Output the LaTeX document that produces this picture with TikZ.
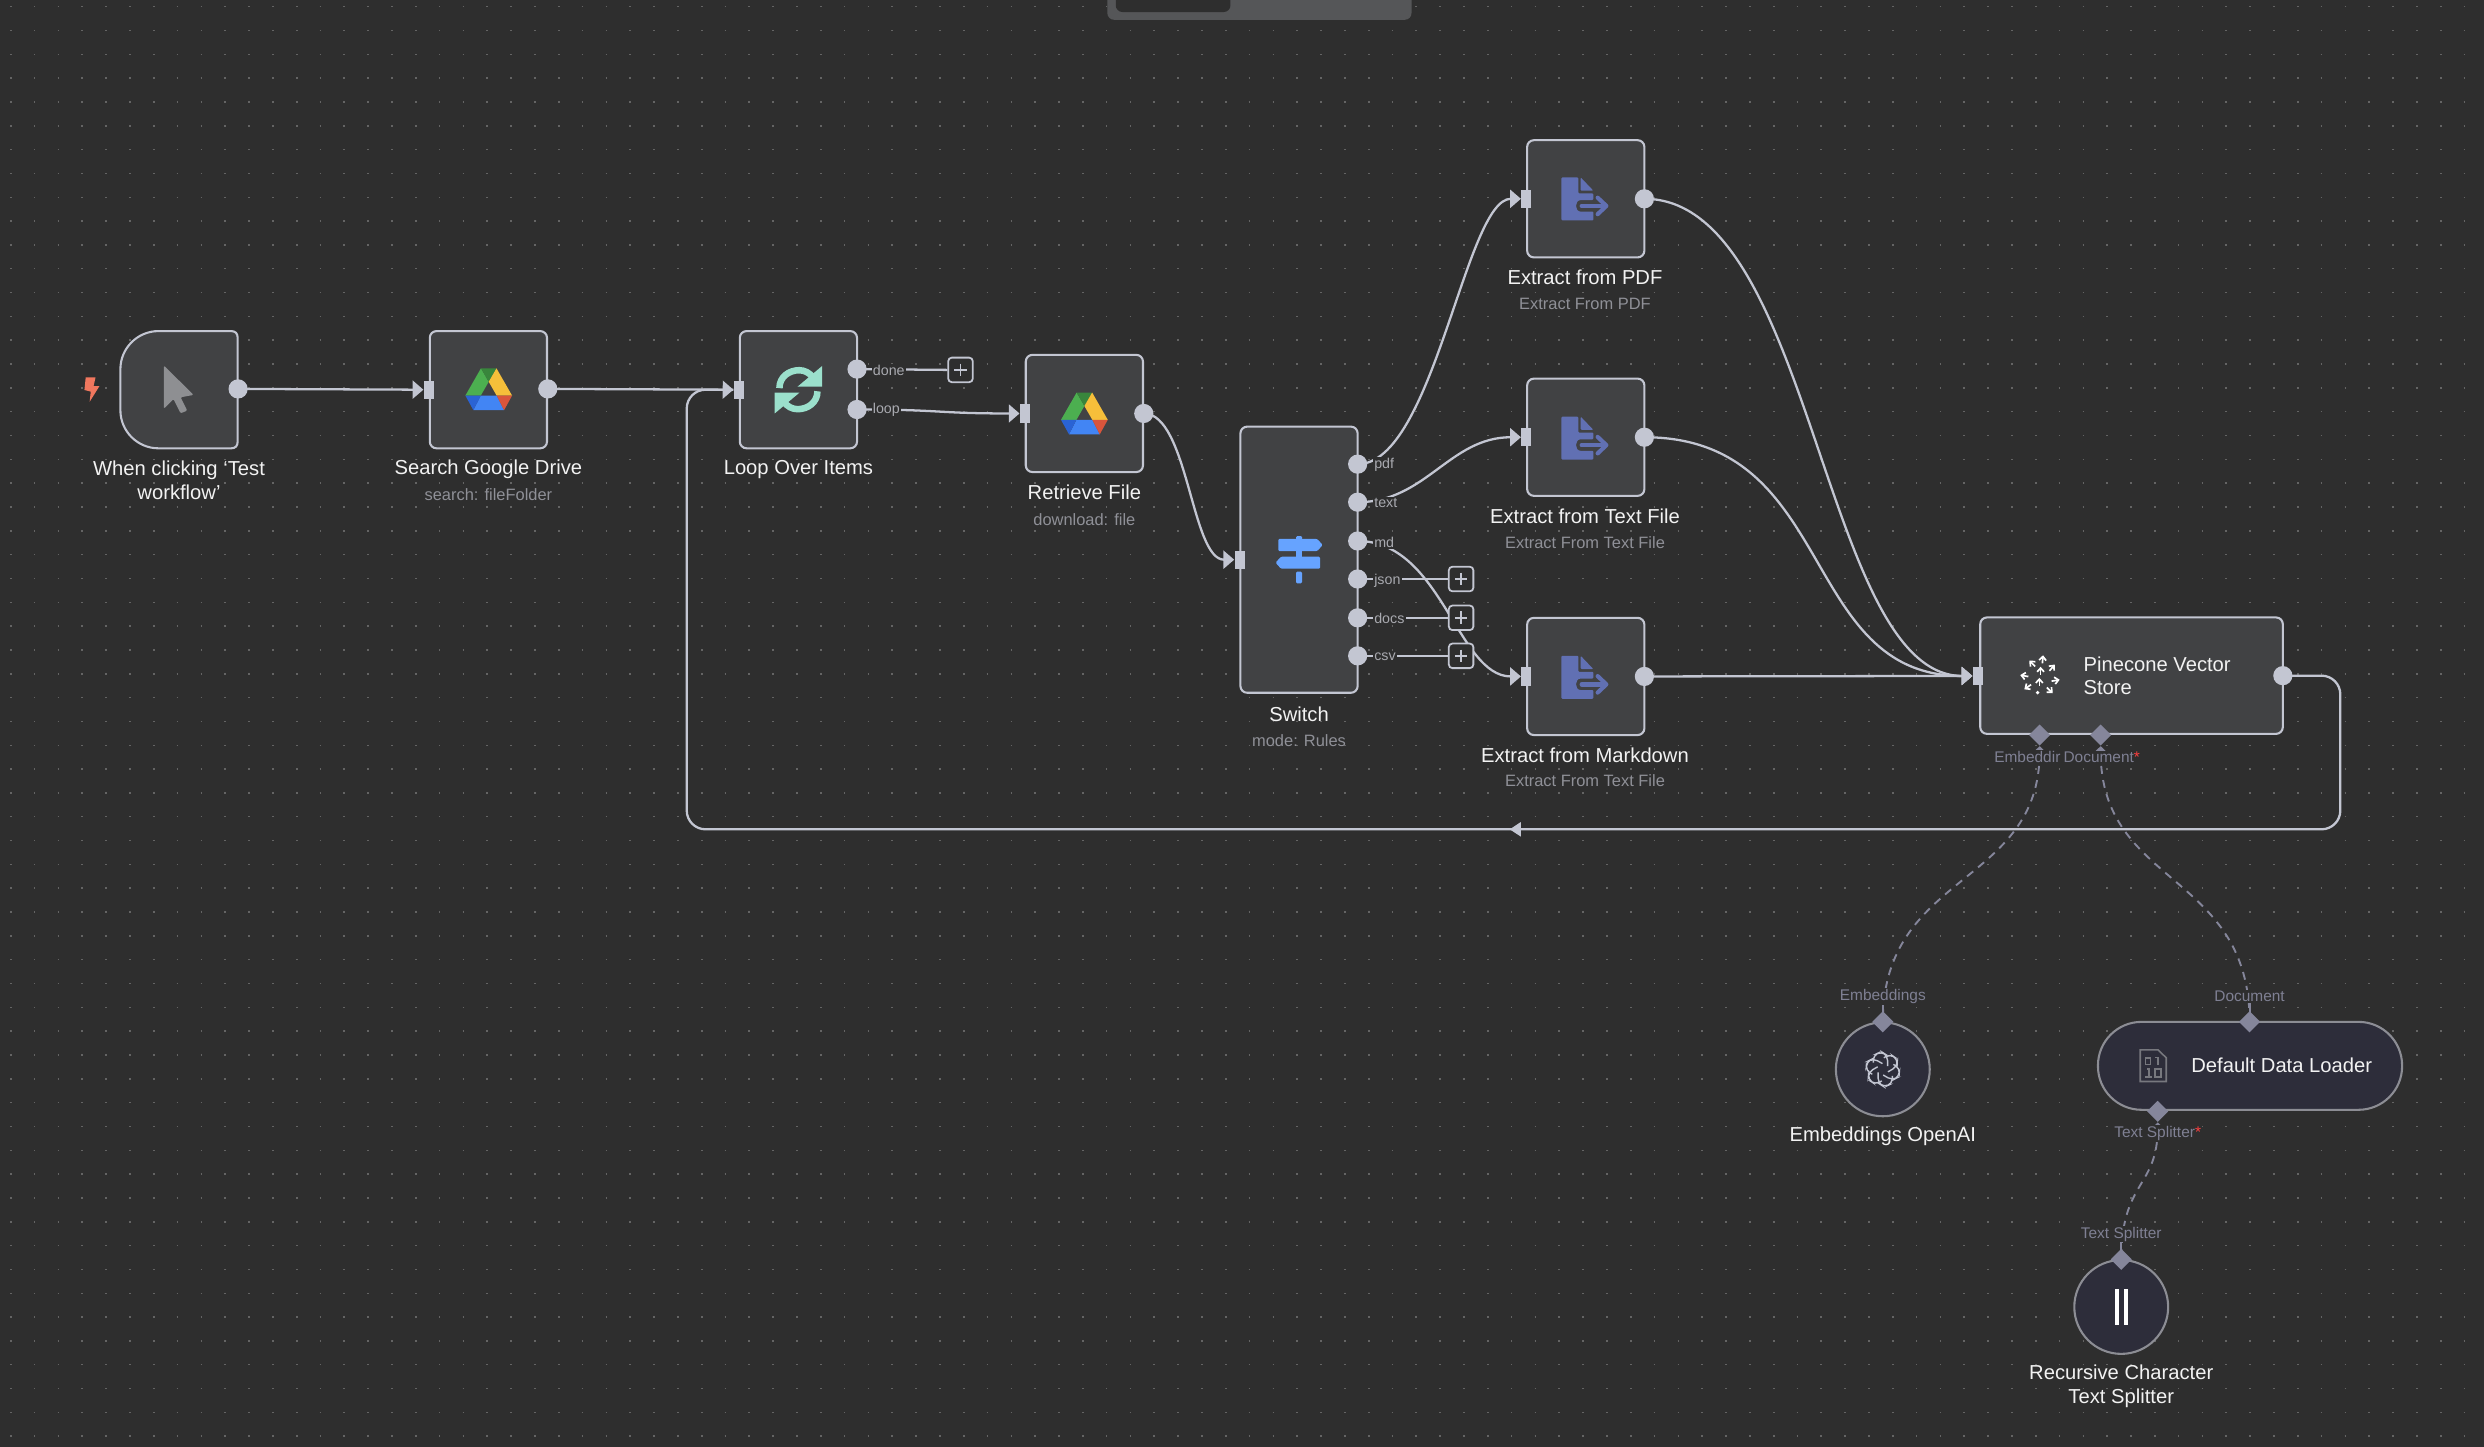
\documentclass[tikz,border=0pt]{standalone}
\usepackage{fontspec}
\setmainfont{Liberation Sans}
\usetikzlibrary{arrows.meta,shapes.geometric}
\definecolor{bgc}{HTML}{2E2E2E}
\definecolor{dotc}{HTML}{646464}
\definecolor{boxf}{HTML}{414244}
\definecolor{edgec}{HTML}{C3C6D2}
\definecolor{subf}{HTML}{2D2D3A}
\definecolor{sube}{HTML}{8C8D94}
\definecolor{dashc}{HTML}{85869B}
\definecolor{dimt}{HTML}{8F9097}
\definecolor{portt}{HTML}{A9AAB0}
\definecolor{subt}{HTML}{7F8093}
\definecolor{docc}{HTML}{6170B3}
\pgfdeclarelayer{gridl}
\pgfdeclarelayer{conn}
\pgfsetlayers{gridl,conn,main}
\tikzset{
  x=0.8pt,y=-0.8pt,
  nodebox/.style={draw=edgec,fill=boxf,line width=1.05pt,rounded corners=3.4pt,inner sep=0pt,minimum width=59.2pt},
  subcirc/.style={circle,draw=sube,fill=subf,line width=1.05pt,inner sep=0pt,minimum size=47.4pt},
  outp/.style={circle,fill=edgec,inner sep=0pt,minimum size=9.7pt},
  inp/.style={rectangle,fill=edgec,inner sep=0pt,minimum width=5.1pt,minimum height=9.2pt},
  subp/.style={diamond,fill=dashc,inner sep=0pt,minimum size=10.8pt},
  plusbox/.style={draw=edgec,fill=bgc,line width=.9pt,rounded corners=1.8pt,inner sep=0pt,minimum width=12.4pt,minimum height=12.4pt,
    path picture={\draw[edgec,line width=.9pt] (path picture bounding box.center) +(-4,0) -- +(4,0) +(0,-4) -- +(0,4);}},
  wire/.style={draw=edgec,line width=1.15pt,-{Triangle[length=5.4pt,width=9pt]}},
  plainwire/.style={draw=edgec,line width=1.15pt},
  dashwire/.style={draw=dashc,line width=.95pt,dash pattern=on 4pt off 3.2pt,{Triangle[length=3pt,width=6pt]}-},
  stubwire/.style={draw=dashc,line width=.95pt},
  name text/.style={text=white!95!black,font=\fontsize{10.2}{11.9}\selectfont,align=center,inner sep=0pt},
  sub text/.style={text=dimt,font=\fontsize{8.3}{9.5}\selectfont,inner sep=0pt},
  port text/.style={text=portt,font=\fontsize{7.2}{9}\selectfont,fill=bgc,inner xsep=.6pt,inner ysep=.6pt},
  conn text/.style={text=subt,font=\fontsize{7.8}{9}\selectfont,fill=bgc,inner xsep=.6pt,inner ysep=.6pt},
}
\newcommand{\gdriveicon}[2]{\begin{scope}[shift={(#1,#2)}]
  \fill[fill={rgb,255:red,76;green,175;blue,80}] (-4.9,-13.2) -- (0,-4.7) -- (-5,4) -- (-14.75,4) -- cycle;
  \fill[fill={rgb,255:red,56;green,134;blue,60}] (-4.9,-13.2) -- (4.9,-13.2) -- (0,-4.7) -- cycle;
  \fill[fill={rgb,255:red,246;green,191;blue,58}] (4.9,-13.2) -- (14.75,4) -- (5,4) -- (0,-4.7) -- cycle;
  \fill[fill={rgb,255:red,66;green,133;blue,244}] (-5,4) -- (5,4) -- (9.7,13.2) -- (-9.7,13.2) -- cycle;
  \fill[fill={rgb,255:red,42;green,99;blue,212}] (-14.75,4) -- (-5,4) -- (-9.7,13.2) -- cycle;
  \fill[fill={rgb,255:red,217;green,85;blue,60}] (5,4) -- (14.75,4) -- (9.7,13.2) -- cycle;
\end{scope}}
\newcommand{\extracticon}[2]{\begin{scope}[shift={(#1,#2)}]
  \fill[docc,rounded corners=.5pt] (-15.4,-13) -- (-4.7,-13) -- (-4.7,-2.9) -- (4.8,-2.9) -- (4.8,1.3) -- (-2.5,1.3) .. controls (-7.2,1.3) and (-7.2,8.6) .. (-2.5,8.6) -- (4.8,8.6) -- (4.8,14.1) -- (-15.4,14.1) -- cycle;
  \fill[docc,rounded corners=.5pt] (-3.2,-13) -- (4.8,-4.6) -- (-3.2,-4.6) -- cycle;
  \draw[docc,line width=2.3pt,line cap=round] (-2.5,5) -- (12,5);
  \draw[docc,line width=2.1pt,line cap=round,line join=round] (7.5,-.2) -- (13,5) -- (7.5,10.2);
\end{scope}}
\begin{document}
\begin{tikzpicture}
\useasboundingbox (0,0) rectangle (1568,912.8);
\begin{pgfonlayer}{gridl}
  \fill[bgc] (-5,-5) rectangle (1575,920);
  \foreach \r in {0,...,60}{
    \draw[dotc,line width=.75pt,dash pattern=on .85pt off 11.18pt] (6.3,{4.2+15.04*\r}) -- (1568,{4.2+15.04*\r});
  }
\end{pgfonlayer}
% top bar
\fill[fill={rgb,255:red,85;green,86;blue,88},rounded corners=3.4pt] (699,-8) rectangle (891,12.5);
\fill[bgc,rounded corners=3.4pt] (704.3,-8) rectangle (776.7,7.6);
% trigger
\node[inner sep=0pt,minimum width=59.2pt,minimum height=59.2pt] (trig) at (113,246) {};
\draw[draw=edgec,fill=boxf,line width=1.05pt] (100,209) -- (146,209) .. controls (148.5,209) and (150,210.5) .. (150,213) -- (150,279) .. controls (150,281.5) and (148.5,283) .. (146,283) -- (100,283) .. controls (86.8,283) and (76,272.2) .. (76,259) -- (76,233) .. controls (76,219.8) and (86.8,209) .. (100,209) -- cycle;
\fill[fill={rgb,255:red,142;green,143;blue,146},rounded corners=.6pt] (103.5,230.8) -- (122.2,249.3) -- (114,250.8) -- (118.2,259.2) -- (114,260.9) -- (109.5,251.9) -- (103.5,258) -- cycle;
\fill[fill={rgb,255:red,240;green,119;blue,94}] (54.1,238.2) -- (60.3,238.2) -- (59.1,243.7) -- (62.8,243.7) -- (56.6,253.6) -- (57.3,247.2) -- (53.3,246.2) -- cycle;
\node[outp] (trigO) at (150.3,245.5) {};
% main boxes
\node[nodebox,minimum height=59.2pt] (search) at (308.3,246) {};
\node[nodebox,minimum height=59.2pt] (loopb) at (504,246) {};
\node[nodebox,minimum height=59.2pt] (retr) at (684.5,261) {};
\node[nodebox,minimum height=134.4pt] (sw) at (820,353.3) {};
\node[nodebox,minimum height=59.2pt] (expdf) at (1001,125.5) {};
\node[nodebox,minimum height=59.2pt] (extxt) at (1001,276) {};
\node[nodebox,minimum height=59.2pt] (exmd) at (1001,427) {};
\node[nodebox,minimum width=152.8pt,minimum height=58.8pt] (pine) at (1345.5,426.5) {};
% sub nodes
\node[subcirc] (emb) at (1188.5,675) {};
\node[subcirc] (split) at (1339,825) {};
\node[rectangle,rounded corners=22pt,draw=sube,fill=subf,line width=1.05pt,inner sep=0pt,minimum width=153.6pt,minimum height=44.4pt] (loader) at (1420.3,672.8) {};
% icons
\gdriveicon{308.5}{245.7}
\gdriveicon{684.5}{261}
\begin{scope}[shift={(504,246)}]
  \definecolor{syncc}{HTML}{9BE0CC}
  \draw[syncc,line width=3.3pt] (-12,-1) .. controls (-12,-8) and (-6,-12.3) .. (.5,-12.3) .. controls (4,-12.3) and (7,-10.5) .. (9,-8);
  \fill[syncc] (15,-15) -- (15,-1.9) -- (-.6,-1.9) -- cycle;
  \draw[syncc,line width=3.3pt] (12,1) .. controls (12,8) and (6,12.3) .. (-.5,12.3) .. controls (-4,12.3) and (-7,10.5) .. (-9,8);
  \fill[syncc] (-15,15) -- (-15,1.9) -- (.6,1.9) -- cycle;
\end{scope}
\begin{scope}[shift={(820,353)}]
  \definecolor{signc}{HTML}{66A3FF}
  \fill[signc,rounded corners=.6pt] (-1.9,-14.6) rectangle (1.9,-10);
  \fill[signc,rounded corners=.6pt] (-13.1,-12.8) -- (11.5,-12.8) -- (14.9,-9) -- (11.5,-5.1) -- (-13.1,-5.1) -- cycle;
  \fill[signc] (-1.9,-5.1) rectangle (1.9,-1.6);
  \fill[signc,rounded corners=.6pt] (-11.4,-1.6) -- (13.3,-1.6) -- (13.3,6) -- (-11.4,6) -- (-14.8,2.2) -- cycle;
  \fill[signc,rounded corners=.6pt] (-1.9,7.9) rectangle (1.9,15.2);
\end{scope}
\extracticon{1001}{125}
\extracticon{1001}{276}
\extracticon{1001}{427}
% pinecone icon
\begin{scope}[shift={(1287.7,427.1)}]
  \foreach \px/\py/\pa in {1.7/-10.5/85,-4.6/-8/135,-9.5/-.4/170,-7.4/6.3/215,5.9/8.4/-45,9.5/2.5/10,7.4/-5.3/50,.4/-3.2/90,-.4/3.8/90}{
    \begin{scope}[shift={(\px,\py)},rotate=\pa]
      \draw[white,line width=.85pt,line join=miter] (-2.2,0) -- (2.2,0);
      \draw[white,line width=.85pt,line join=miter] (-.2,-2.2) -- (2.2,0) -- (-.2,2.2);
    \end{scope}
  }
  \fill[white] (-1.5,10.1) circle (1.2);
\end{scope}
% openai icon
\begin{scope}[shift={(1188.5,675)}]
  \foreach \a in {0,60,...,300}{
    \begin{scope}[rotate=\a]
      \draw[edgec,line width=.7pt,rounded corners=2.4pt] (3,-2) -- (3,-8.6) -- (-1,-11.2) -- (-6,-8.8) -- (-6,-4.2);
    \end{scope}
  }
\end{scope}
% binary doc icon
\begin{scope}[shift={(1359.2,672.7)}]
  \draw[sube!85!black,line width=.8pt] (-8.2,-10) -- (3,-10) -- (8.2,-5) -- (8.2,10) -- (-8.2,10) -- cycle;
  \draw[sube!85!black,line width=.75pt] (-5,-5) rectangle (-1.6,-.6) (1.2,-5.2) -- (3,-5.2) -- (3,-.6) (-3.8,2) -- (-2.6,2) -- (-2.6,7) (1,2.2) rectangle (5,7) (-5,7) -- (-.6,7);
\end{scope}
% splitter icon
\fill[white] (1334.8,813.9) rectangle (1337.7,836.4);
\fill[white] (1340.6,813.9) rectangle (1343.4,836.4);
% ports
\node[inp] (searchI) at (270.7,246) {};
\node[outp] (searchO) at (345.8,245.5) {};
\node[inp] (loopI) at (466.4,246) {};
\node[outp] (loopD) at (541,233) {};
\node[outp] (loopL) at (541,258.5) {};
\node[inp] (retrI) at (647,261) {};
\node[outp] (retrO) at (722,261) {};
\node[inp] (swI) at (782.5,353.3) {};
\node[outp] (swA) at (857,293) {};
\node[outp] (swB) at (857,317) {};
\node[outp] (swC) at (857,341.5) {};
\node[outp] (swD) at (857,365.5) {};
\node[outp] (swE) at (857,390) {};
\node[outp] (swF) at (857,414) {};
\node[inp] (pdfI) at (963.5,125.5) {};
\node[outp] (pdfO) at (1038,125.5) {};
\node[inp] (txtI) at (963.5,276) {};
\node[outp] (txtO) at (1038,276) {};
\node[inp] (mdI) at (963.5,427) {};
\node[outp] (mdO) at (1038,427) {};
\node[inp] (pineI) at (1248.5,426.7) {};
\node[outp] (pineO) at (1441,426.5) {};
\node[subp] (pineE) at (1287.5,464) {};
\node[subp] (pineD) at (1326,464) {};
\node[subp] (embP) at (1188.5,645) {};
\node[subp] (loadP) at (1420,645) {};
\node[subp] (loadS) at (1362,701.5) {};
\node[subp] (splitP) at (1339,795) {};
\node[plusbox] (plusA) at (606.3,233.5) {};
\node[plusbox] (plusB) at (922.3,365.5) {};
\node[plusbox] (plusC) at (922.3,390) {};
\node[plusbox] (plusD) at (922.3,414) {};
\coordinate (rb) at (1477.3,523.5);
\coordinate (lb) at (433.5,523.5);
\coordinate (lt) at (433.5,246);
\coordinate (backMid) at (957,523.5);
% connectors
\begin{pgfonlayer}{conn}
  \draw[wire] (trigO.center) -- (searchI.west);
  \draw[wire] (searchO.center) -- (loopI.west);
  \draw[plainwire] (loopD.center) -- (plusA.west);
  \draw[wire] (loopL.center) .. controls (595,258.5) and (590,261) .. (retrI.west);
  \draw[wire] (retrO.center) .. controls (750,261) and (752,353.3) .. (swI.west);
  \draw[wire] (swA.center) .. controls (905,293) and (925,125.5) .. (pdfI.west);
  \draw[wire] (swB.center) .. controls (900,317) and (915,276) .. (txtI.west);
  \draw[wire] (swC.center) .. controls (910,341.5) and (920,427) .. (mdI.west);
  \draw[plainwire] (swD.center) -- (plusB.west);
  \draw[plainwire] (swE.center) -- (plusC.west);
  \draw[plainwire] (swF.center) -- (plusD.west);
  \draw[wire] (pdfO.center) .. controls (1145,125.5) and (1150,426.7) .. (pineI.west);
  \draw[wire] (txtO.center) .. controls (1160,276) and (1135,426.7) .. (pineI.west);
  \draw[wire] (mdO.center) -- (pineI.west);
  \draw[plainwire,rounded corners=9.5pt] (pineO.center) -| (rb) -- (lb) -- (lt) -- (loopI.west);
  \fill[edgec] (backMid) +(-4,0) -- +(3,-4.6) -- +(3,4.6) -- cycle;
  \draw[dashwire] (pineE.south) .. controls (1287.5,560) and (1188.5,550) .. (embP.center);
  \draw[dashwire] (pineD.south) .. controls (1326,560) and (1420,550) .. (loadP.center);
  \draw[dashwire] (loadS.south) .. controls (1362,750) and (1339,745) .. (splitP.center);
  \draw[stubwire] (embP.center) -- ++(0,-14);
  \draw[stubwire] (loadP.center) -- ++(0,-14);
  \draw[stubwire] (splitP.center) -- ++(0,-14);
\end{pgfonlayer}
% labels
\node[name text] (trigL) at (113,303) {When clicking ‘Test\\workflow’};
\node[name text] (searchL) at (308.3,296.3) {Search Google Drive};
\node[sub text] (searchS) at (308.3,312.5) {search: fileFolder};
\node[name text] (loopT) at (504,296.7) {Loop Over Items};
\node[name text] (retrL) at (684.5,311) {Retrieve File};
\node[sub text] (retrS) at (684.5,328) {download: file};
\node[name text] (swL) at (820,450.7) {Switch};
\node[sub text] (swS) at (820,467.5) {mode: Rules};
\node[name text] (pdfL) at (1000.5,175.3) {Extract from PDF};
\node[sub text] (pdfS) at (1000.5,192) {Extract From PDF};
\node[name text] (txtL) at (1000.5,325.6) {Extract from Text File};
\node[sub text] (txtS) at (1000.5,342.5) {Extract From Text File};
\node[name text] (mdL) at (1000.5,476.6) {Extract from Markdown};
\node[sub text] (mdS) at (1000.5,493) {Extract From Text File};
\node[name text,align=left,anchor=west] (pineL) at (1315,426.5) {Pinecone Vector\\Store};
\node[name text,anchor=west] (loadL) at (1383,672.7) {Default Data Loader};
\node[name text] (embL) at (1188.5,717.3) {Embeddings OpenAI};
\node[name text] (splitL) at (1339,875) {Recursive Character\\Text Splitter};
\node[port text,anchor=west] at (550,234) {done};
\node[port text,anchor=west] at (550,259) {loop};
\node[port text,anchor=west] at (866.5,293.5) {pdf};
\node[port text,anchor=west] at (866.5,317.5) {text};
\node[port text,anchor=west] at (866.5,342.5) {md};
\node[port text,anchor=west] at (866.5,366.5) {json};
\node[port text,anchor=west] at (866.5,390.5) {docs};
\node[port text,anchor=west] at (866.5,414.5) {csv};
\node[conn text,anchor=east] (embT) at (1301.6,478) {Embeddir};
\node[conn text,anchor=west] (docT) at (1301.6,478) {Document{\color{red!75!white}*}};
\node[conn text] (embU) at (1188.5,629) {Embeddings};
\node[conn text] (loadU) at (1420,629) {Document};
\node[conn text] (splitT) at (1362,715.5) {Text Splitter{\color{red!75!white}*}};
\node[conn text] (splitU) at (1339,779) {Text Splitter};
\end{tikzpicture}
\end{document}
